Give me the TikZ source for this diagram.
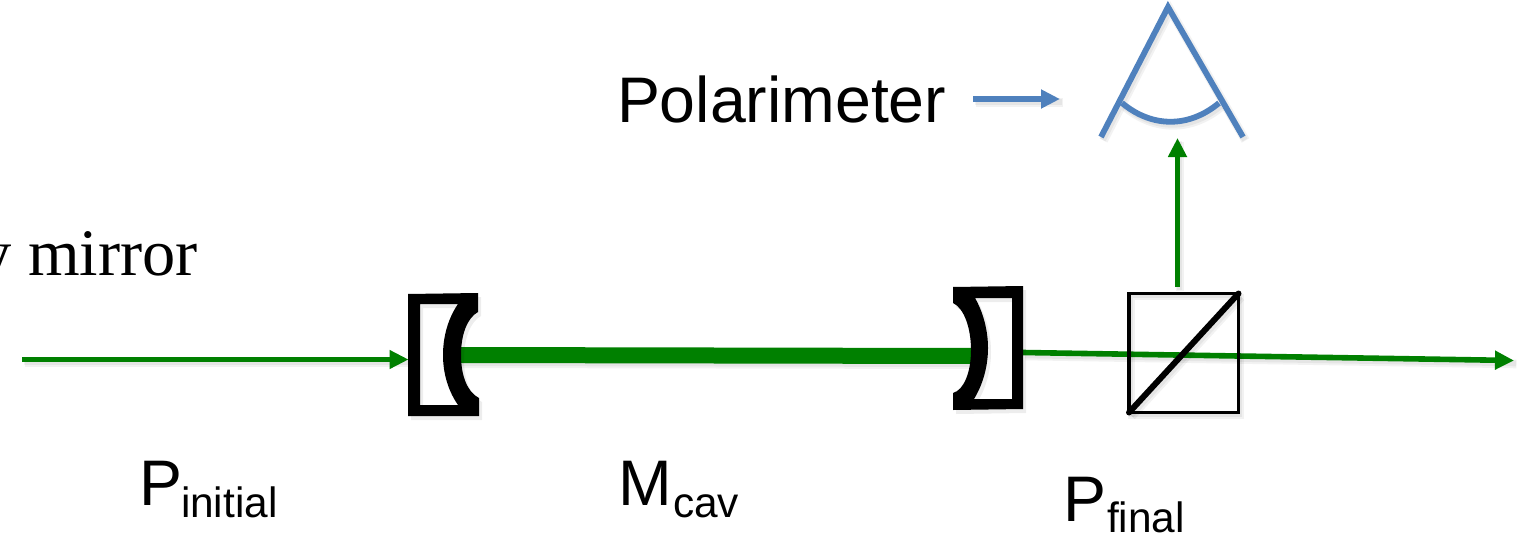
\documentclass[tikz,border=0pt]{standalone}
\usepackage{fontspec}
\setmainfont{Liberation Sans}
\newfontfamily\serifface{Liberation Serif}
\usetikzlibrary{arrows.meta}
\definecolor{beam}{HTML}{008000}
\definecolor{steel}{HTML}{4F81BD}
\tikzset{
  x=1pt,y=-1pt,
  softshade/.style={preaction={draw=black,draw opacity=.05,line width=#1+3pt,transform canvas={shift={(2.5pt,-3.5pt)}},-},
                    preaction={draw=black,draw opacity=.05,line width=#1,transform canvas={shift={(2pt,-3pt)}},-}},
  beamline/.style={draw=beam,line width=4.4pt,-{Triangle[length=19pt,width=18pt,fill=beam]}},
  steelline/.style={draw=steel,line width=5.8pt},
  steelarrow/.style={draw=steel,line width=5.2pt,-{Triangle[length=19pt,width=18pt,fill=steel]}},
  mirrorbody/.style={fill=black,even odd rule,draw=none},
  mirrorshade/.style={fill=black,fill opacity=.07,even odd rule,draw=none,transform canvas={shift={(3pt,-4pt)}}},
  label/.style={anchor=base west,inner sep=0pt,outer sep=0pt,font=\fontsize{64.4pt}{70pt}\selectfont},
  sublabel/.style={anchor=base west,inner sep=0pt,outer sep=0pt,font=\fontsize{42.4pt}{46pt}\selectfont},
}
\begin{document}
\begin{tikzpicture}
\useasboundingbox (0,0) rectangle (1518,543);
\fill[white] (0,0) rectangle (1518,543);

% anchors for the connectors
\coordinate (inStart) at (22,359.5);
\coordinate (inEnd) at (408.5,359.5);
\coordinate (cavL) at (458,355);
\coordinate (cavR) at (973,356);
\coordinate (outStart) at (1023,352.5);
\coordinate (outEnd) at (1514,360.5);
\coordinate (upStart) at (1177.5,287);
\coordinate (upEnd) at (1177.5,138);
\coordinate (polStart) at (973,99);
\coordinate (polEnd) at (1060,99);
\coordinate (apex) at (1168,7);
\coordinate (footL) at (1101,137);
\coordinate (footR) at (1243,137);
\coordinate (arcL) at (1122,103);
\coordinate (arcR) at (1219,103);
\coordinate (cubeBL) at (1129,412.5);
\coordinate (cubeTR) at (1238.5,293.5);

% beams
\draw[softshade=16pt,draw=beam,line width=16pt] (cavL) -- (cavR);
\draw[softshade=4.4pt,beamline] (inStart) -- (inEnd);
\draw[softshade=5.6pt,beamline,line width=5.6pt] (outStart) -- (outEnd);
\draw[softshade=5.6pt,beamline,line width=5.6pt] (upStart) -- (upEnd);

% left mirror
\def\leftmirror{(408,294) -- (478,293) -- (478,312) .. controls (467,318) and (461,335) .. (461,355)
   .. controls (461,375) and (467,392) .. (479,398) -- (479,416) -- (408,416) -- cycle
   (420,304) -- (420,405) -- (458,405) .. controls (449,392) and (443,375) .. (443,355)
   .. controls (443,335) and (449,317) .. (458,304) -- cycle}
\path[mirrorshade] \leftmirror;
\path[mirrorbody] \leftmirror;

% right mirror
\def\rightmirror{(953,287) -- (1023,286) -- (1023,409) -- (953,410) -- (953,393)
   .. controls (964,390) and (971,372) .. (971,350) .. controls (971,328) and (964,308) .. (953,303) -- cycle
   (975,298) .. controls (983,312) and (988,330) .. (988,348) .. controls (988,368) and (982,386) .. (974,399)
   -- (1012,399) -- (1012,298) -- cycle}
\path[mirrorshade] \rightmirror;
\path[mirrorbody] \rightmirror;

% polarising cube
\draw[softshade=3.4pt,black,line width=3.4pt] (cubeBL) rectangle (cubeTR);
\draw[softshade=6pt,black,line width=6pt,line cap=round] (cubeBL) -- (cubeTR);

% polarimeter
\draw[softshade=5.8pt,steelline,line join=miter] (footL) -- (apex) -- (footR);
\draw[softshade=5.8pt,steelline] (arcL) .. controls (1152,128) and (1189,128) .. (arcR);
\draw[softshade=5.2pt,steelarrow] (polStart) -- (polEnd);

% labels
\node[label] (polLabel) at (617,122) {Polarimeter};
\node[anchor=base east,inner sep=0pt,font=\serifface\fontsize{66.4pt}{72pt}\selectfont] (mirrorLabel) at (198,275) {y mirror};
\node[label] (pi) at (139,505) {P};
\node[sublabel] (piSub) at (181,517) {initial};
\node[label] (mc) at (618,505) {M};
\node[sublabel] (mcSub) at (673,517) {cav};
\node[label] (pf) at (1063,521) {P};
\node[sublabel] (pfSub) at (1107,532) {final};
\end{tikzpicture}
\end{document}
